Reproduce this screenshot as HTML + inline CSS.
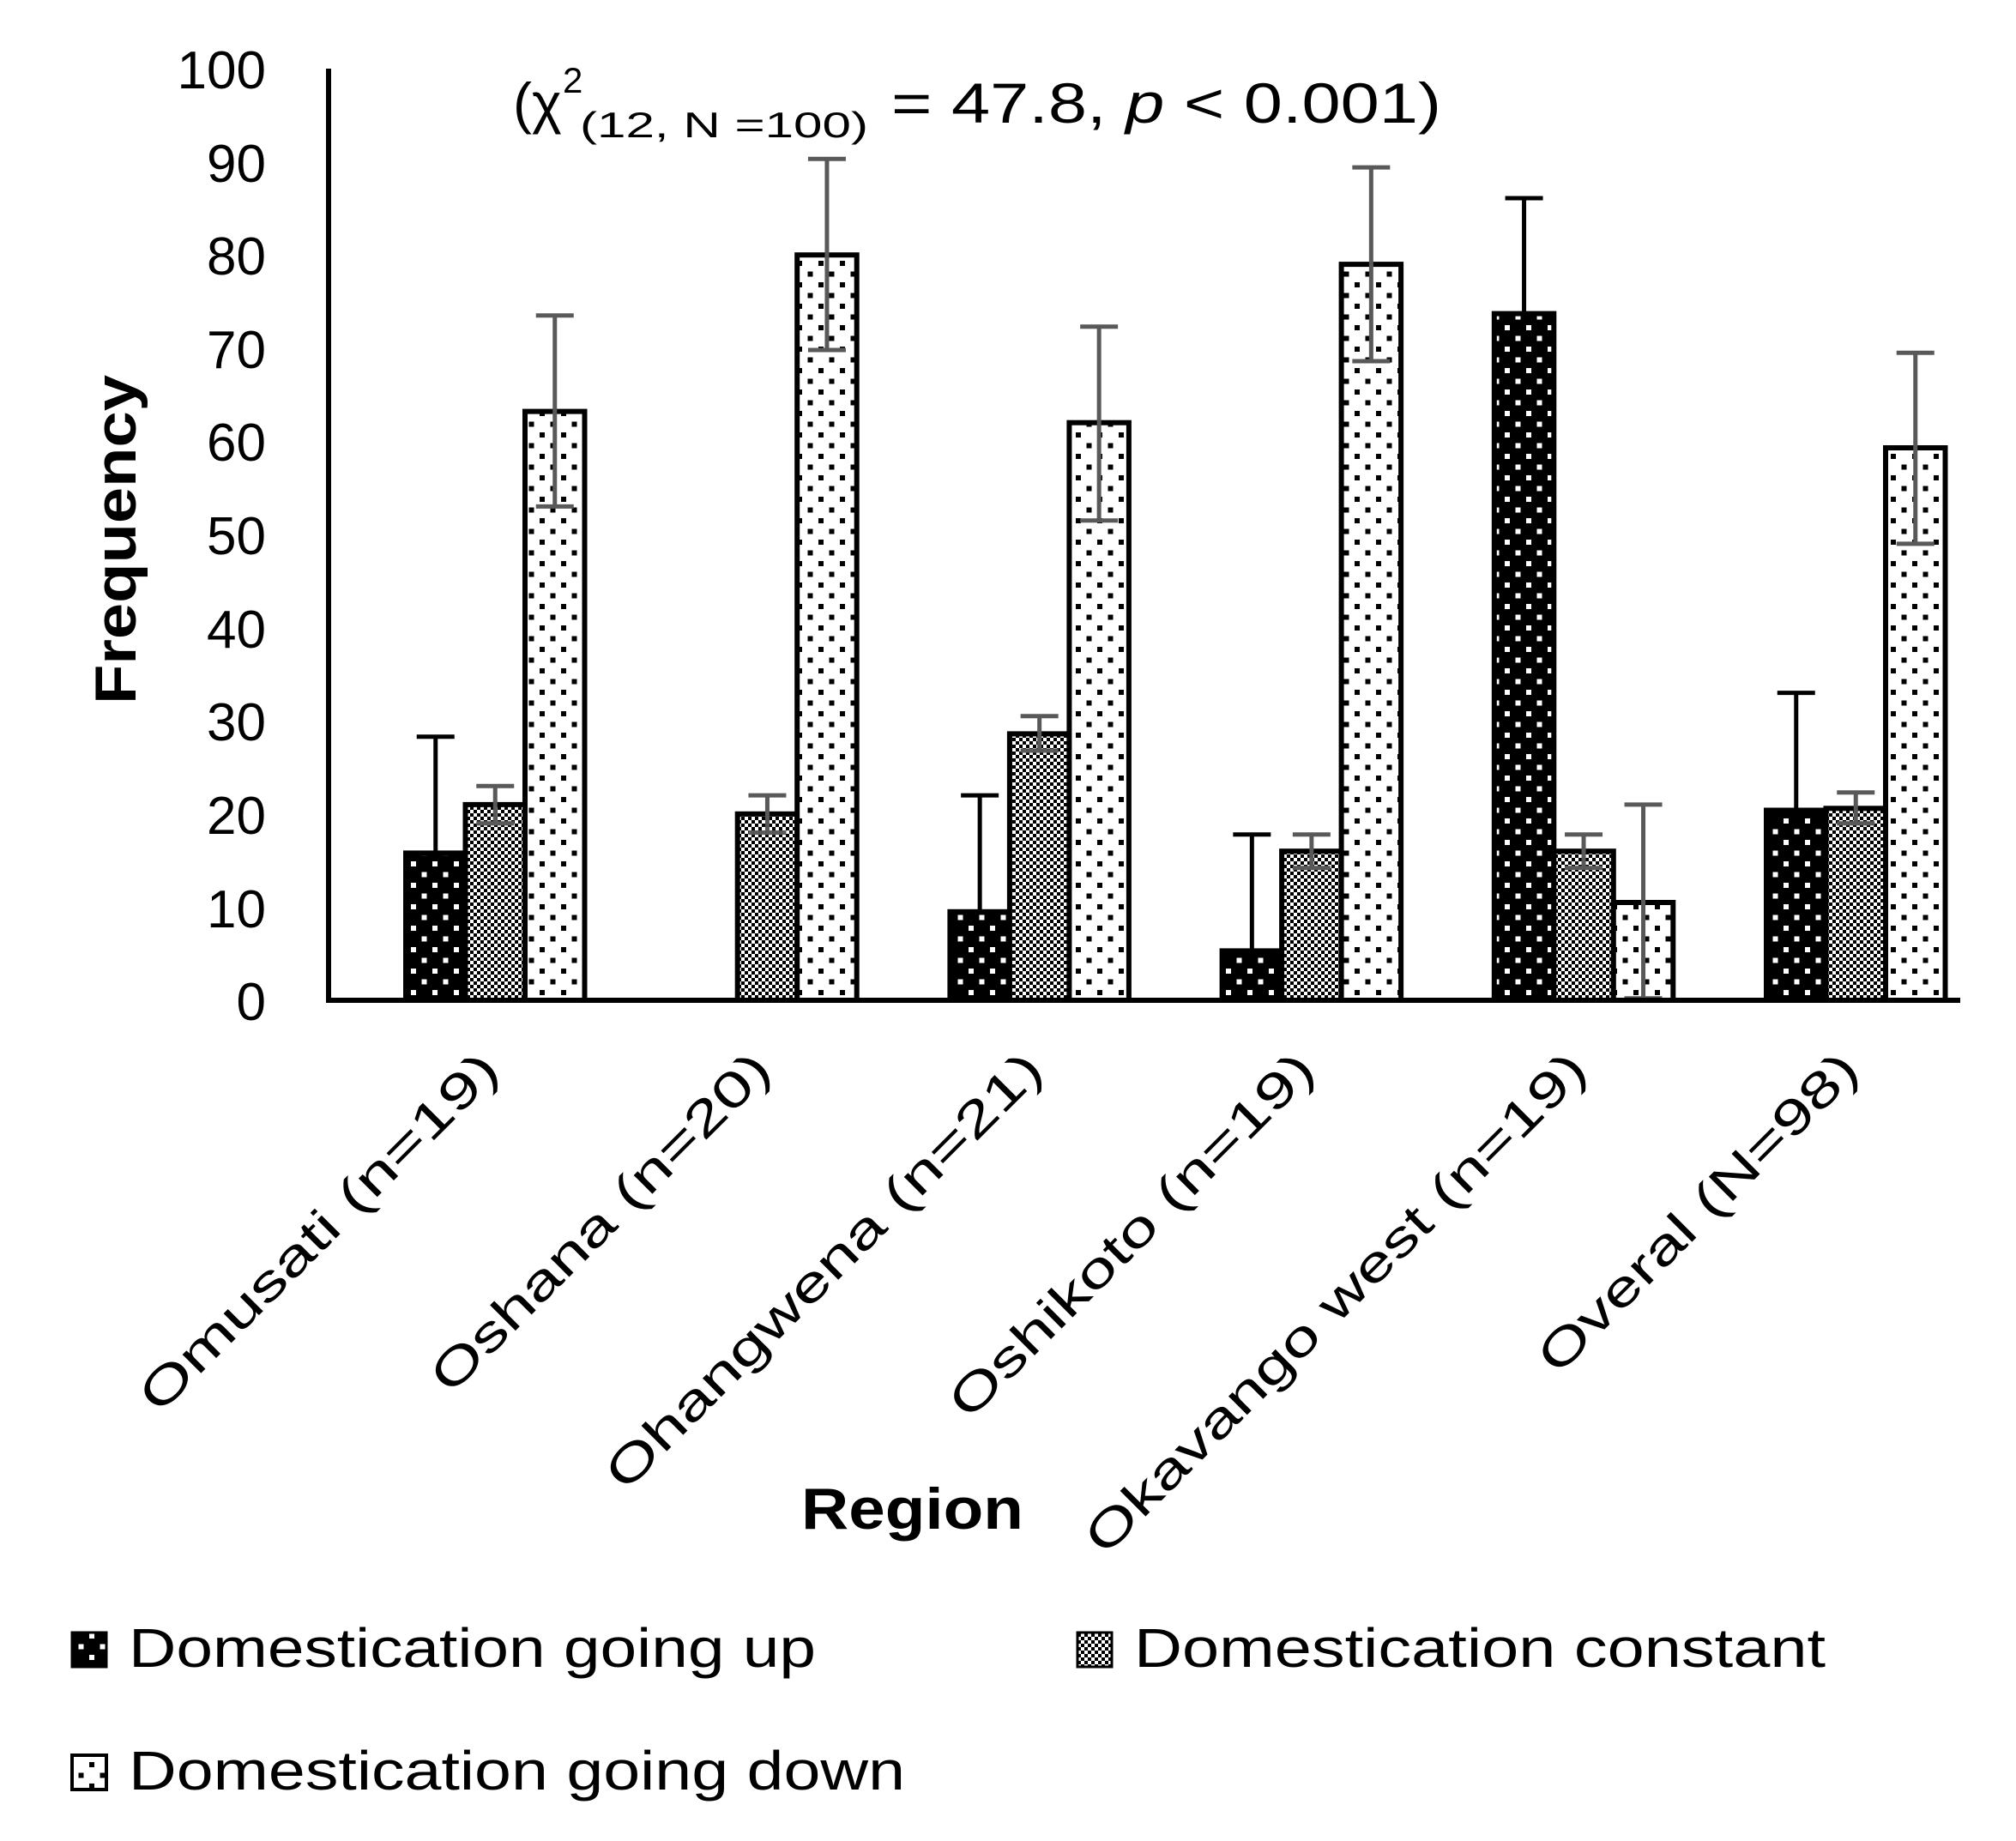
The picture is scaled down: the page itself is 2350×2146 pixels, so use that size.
<!DOCTYPE html>
<html><head><meta charset="utf-8"><style>html,body{margin:0;padding:0;background:#fff}svg{display:block}</style></head>
<body>
<svg width="2350" height="2146" viewBox="0 0 2350 2146" xmlns="http://www.w3.org/2000/svg" font-family="Liberation Sans, sans-serif">
<defs>
<pattern id="pd" width="25" height="25" patternUnits="userSpaceOnUse">
<rect width="25" height="25" fill="#000"/><rect x="4" y="4" width="6" height="6" fill="#fff"/><rect x="16.5" y="16.5" width="6" height="6" fill="#fff"/>
</pattern>
<pattern id="pc" width="8" height="8" patternUnits="userSpaceOnUse">
<rect width="8" height="8" fill="#fff"/><rect width="4" height="4" fill="#000"/><rect x="4" y="4" width="4" height="4" fill="#000"/>
</pattern>
<pattern id="pw" width="25" height="25" patternUnits="userSpaceOnUse">
<rect width="25" height="25" fill="#fff"/><rect x="4" y="4" width="6" height="6" fill="#000"/><rect x="16.5" y="16.5" width="6" height="6" fill="#000"/>
</pattern>
</defs>
<g stroke="#000" stroke-width="6">
<!-- Omusati -->
<rect x="473" y="994.4" width="69.5" height="171.6" fill="url(#pd)"/>
<rect x="542.5" y="937.9" width="69.5" height="228.1" fill="url(#pc)"/>
<rect x="612" y="479.6" width="69.5" height="686.4" fill="url(#pw)"/>
<!-- Oshana -->
<rect x="859.7" y="948.8" width="69.5" height="217.2" fill="url(#pc)"/>
<rect x="929.2" y="297.2" width="69.5" height="868.8" fill="url(#pw)"/>
<!-- Ohangwena -->
<rect x="1107.4" y="1062.8" width="69.5" height="103.2" fill="url(#pd)"/>
<rect x="1176.9" y="855.4" width="69.5" height="310.6" fill="url(#pc)"/>
<rect x="1246.4" y="492.7" width="69.5" height="673.3" fill="url(#pw)"/>
<!-- Oshikoto -->
<rect x="1424.6" y="1108.4" width="69.5" height="57.6" fill="url(#pd)"/>
<rect x="1494.1" y="992.2" width="69.5" height="173.8" fill="url(#pc)"/>
<rect x="1563.6" y="308.1" width="69.5" height="857.9" fill="url(#pw)"/>
<!-- Okavango -->
<rect x="1741.8" y="365.6" width="69.5" height="800.4" fill="url(#pd)"/>
<rect x="1811.3" y="992.2" width="69.5" height="173.8" fill="url(#pc)"/>
<rect x="1880.8" y="1052" width="69.5" height="114" fill="url(#pw)"/>
<!-- Overal -->
<rect x="2059" y="944.5" width="69.5" height="221.5" fill="url(#pd)"/>
<rect x="2128.5" y="942.3" width="69.5" height="223.7" fill="url(#pc)"/>
<rect x="2198" y="522" width="69.5" height="644" fill="url(#pw)"/>
</g>
<!-- black error bars (up only) -->
<path stroke="#000" stroke-width="5" fill="none" d="
M507.75 994.4V858.7M485.75 858.7H529.75
M1142.15 1062.8V927.1M1120.15 927.1H1164.15
M1459.35 1108.4V972.7M1437.35 972.7H1481.35
M1776.55 365.6V231M1754.55 231H1798.55
M2093.75 944.5V807.6M2071.75 807.6H2115.75"/>
<!-- gray error bars -->
<path stroke="#595959" stroke-width="5" fill="none" d="
M577.25 959.7V916.2M555.25 959.7H599.25M555.25 916.2H599.25
M646.75 590.4V367.8M624.75 590.4H668.75M624.75 367.8H668.75
M894.45 970.5V927.1M872.45 970.5H916.45M872.45 927.1H916.45
M963.95 408V185.3M941.95 408H985.95M941.95 185.3H985.95
M1211.65 875V834.8M1189.65 875H1233.65M1189.65 834.8H1233.65
M1281.15 606.7V380.8M1259.15 606.7H1303.15M1259.15 380.8H1303.15
M1528.85 1011.8V972.7M1506.85 1011.8H1550.85M1506.85 972.7H1550.85
M1598.35 421V195.1M1576.35 421H1620.35M1576.35 195.1H1620.35
M1846.05 1011.8V972.7M1824.05 1011.8H1868.05M1824.05 972.7H1868.05
M1915.55 1163.8V937.9M1893.55 1163.8H1937.55M1893.55 937.9H1937.55
M2163.25 959.7V923.8M2141.25 959.7H2185.25M2141.25 923.8H2185.25
M2232.75 633.9V411.2M2210.75 633.9H2254.75M2210.75 411.2H2254.75"/>
<!-- axes -->
<line x1="383" y1="80" x2="383" y2="1169" stroke="#000" stroke-width="6"/>
<line x1="380" y1="1166" x2="2285" y2="1166" stroke="#000" stroke-width="6"/>
<g font-size="62" text-anchor="end" fill="#000">
<text x="310" y="103">100</text><text x="310" y="212">90</text><text x="310" y="320">80</text><text x="310" y="429">70</text><text x="310" y="537">60</text><text x="310" y="646">50</text><text x="310" y="755">40</text><text x="310" y="863">30</text><text x="310" y="972">20</text><text x="310" y="1081">10</text><text x="310" y="1189">0</text>
</g>
<text transform="translate(158,629) rotate(-90)" text-anchor="middle" font-size="68" font-weight="bold" textLength="384" lengthAdjust="spacingAndGlyphs">Frequency</text>
<text x="598" y="143" font-size="66">(χ</text>
<text x="656" y="108" font-size="42">2</text>
<text x="676" y="160" font-size="42" textLength="336" lengthAdjust="spacingAndGlyphs">(12, N =100)</text>
<text x="1039" y="143" font-size="66" textLength="641" lengthAdjust="spacingAndGlyphs">= 47.8, <tspan font-style="italic">p</tspan> &lt; 0.001)</text>
<g font-size="58" text-anchor="end">
<text transform="translate(585,1250) rotate(-45)" textLength="565" lengthAdjust="spacingAndGlyphs">Omusati (n=19)</text>
<text transform="translate(902,1250) rotate(-45)" textLength="533" lengthAdjust="spacingAndGlyphs">Oshana (n=20)</text>
<text transform="translate(1219,1250) rotate(-45)" textLength="693" lengthAdjust="spacingAndGlyphs">Ohangwena (n=21)</text>
<text transform="translate(1536,1250) rotate(-45)" textLength="575" lengthAdjust="spacingAndGlyphs">Oshikoto (n=19)</text>
<text transform="translate(1853,1250) rotate(-45)" textLength="799" lengthAdjust="spacingAndGlyphs">Okavango west (n=19)</text>
<text transform="translate(2170,1250) rotate(-45)" textLength="501" lengthAdjust="spacingAndGlyphs">Overal (N=98)</text>
</g>
<text x="934" y="1782" font-size="68" font-weight="bold" textLength="259" lengthAdjust="spacingAndGlyphs">Region</text>
<!-- legend -->
<rect x="84" y="1903" width="40" height="40" fill="url(#pd)" stroke="#000" stroke-width="3"/>
<text x="150" y="1943" font-size="64" textLength="801" lengthAdjust="spacingAndGlyphs">Domestication going up</text>
<rect x="1256" y="1903" width="40" height="40" fill="url(#pc)" stroke="#000" stroke-width="3"/>
<text x="1322" y="1943" font-size="64" textLength="806" lengthAdjust="spacingAndGlyphs">Domestication constant</text>
<rect x="84" y="2046" width="40" height="40" fill="url(#pw)" stroke="#000" stroke-width="4"/>
<text x="150" y="2086" font-size="64" textLength="905" lengthAdjust="spacingAndGlyphs">Domestication going down</text>
</svg>
</body></html>
